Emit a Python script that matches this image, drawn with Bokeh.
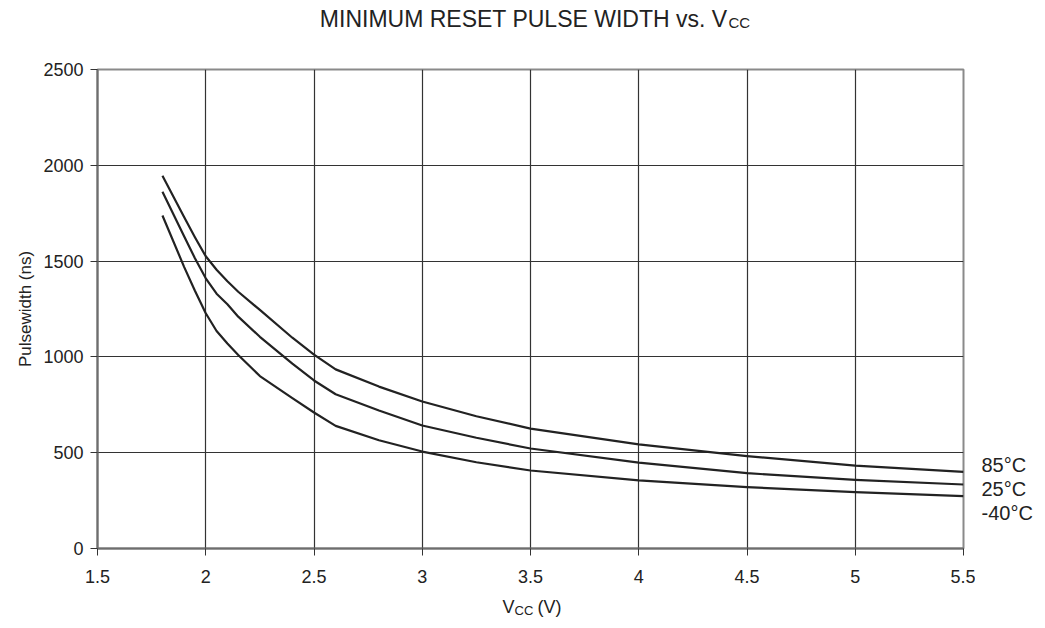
from bokeh.plotting import figure
from bokeh.models import Range1d, Label, FixedTicker
from bokeh.layouts import column, row
from bokeh.embed import file_html
from bokeh.resources import INLINE

vcc = [1.8, 1.9, 1.95, 2.0, 2.05, 2.1, 2.15, 2.25, 2.4, 2.5, 2.6, 2.8, 3.0, 3.25, 3.5, 4.0, 4.5, 5.0, 5.5]
pw_85 = [1945, 1730, 1625, 1525, 1455, 1395, 1340, 1245, 1100, 1012, 935, 845, 767, 690, 626, 543, 482, 433, 400]
pw_25 = [1862, 1630, 1515, 1410, 1330, 1275, 1210, 1105, 965, 877, 805, 720, 642, 578, 522, 448, 393, 358, 334]
pw_m40 = [1738, 1470, 1345, 1228, 1135, 1070, 1010, 900, 785, 710, 640, 565, 506, 450, 407, 356, 320, 294, 273]
series_labels = ["85°C", "25°C", "-40°C"]
label_y = [438, 308, 183]
x_ticks = [1.5, 2, 2.5, 3, 3.5, 4, 4.5, 5, 5.5]
x_tick_text = ["1.5", "2", "2.5", "3", "3.5", "4", "4.5", "5", "5.5"]
y_ticks = [0, 500, 1000, 1500, 2000, 2500]
title_main = "MINIMUM RESET PULSE WIDTH vs. V"
title_sub = "CC"

FONT = "Liberation Sans"
INK = "#222222"

def blank(w, h, y_range=None):
    f = figure(width=w, height=h, output_backend="svg", toolbar_location=None,
               x_axis_type=None, y_axis_type=None,
               x_range=Range1d(0, 1), y_range=y_range if y_range is not None else Range1d(0, 1),
               min_border=0, min_border_left=0, min_border_right=0,
               min_border_top=0, min_border_bottom=0)
    f.outline_line_color = None
    f.background_fill_color = "white"
    f.border_fill_color = "white"
    return f

def lab(f, x, y, text, size, align="left", baseline="alphabetic", units="screen"):
    f.add_layout(Label(x=x, y=y, x_units="screen", y_units=units, text=text,
                       text_font=FONT, text_font_size=size, text_color=INK,
                       text_align=align, text_baseline=baseline))

# ---- title strip (canvas y 0..50)
top = blank(1037, 50)
lab(top, 727, 32, title_main, "23px", align="right")
lab(top, 728, 28, title_sub, "15px")

# ---- main chart (canvas y 50..590)
p = figure(width=975, height=540, output_backend="svg", toolbar_location=None,
           x_range=Range1d(1.5, 5.5), y_range=Range1d(0, 2500),
           min_border_left=97, min_border_right=12, min_border_top=19, min_border_bottom=42)
p.background_fill_color = "white"
p.border_fill_color = "white"
p.outline_line_color = "#8a8a8a"
p.outline_line_width = 2

for ax in (p.xaxis[0], p.yaxis[0]):
    ax.axis_line_color = "#6e6e6e"
    ax.axis_line_width = 2
    ax.major_tick_line_color = "#333333"
    ax.major_tick_in = 0
    ax.major_tick_out = 7
    ax.minor_tick_line_color = None
    ax.major_label_text_font = FONT
    ax.major_label_text_font_size = "18px"
    ax.major_label_text_color = INK

p.xaxis.ticker = FixedTicker(ticks=x_ticks)
p.xaxis.major_label_overrides = {t: s for t, s in zip(x_ticks, x_tick_text)}
p.xaxis.major_label_standoff = 14
p.yaxis.ticker = FixedTicker(ticks=y_ticks)
p.yaxis.major_label_standoff = 7
p.yaxis.axis_label = "Pulsewidth (ns)"
p.yaxis.axis_label_text_font = FONT
p.yaxis.axis_label_text_font_size = "17px"
p.yaxis.axis_label_text_font_style = "normal"
p.yaxis.axis_label_text_color = INK
p.yaxis.axis_label_standoff = 5

p.xgrid.ticker = FixedTicker(ticks=x_ticks)
p.ygrid.ticker = FixedTicker(ticks=y_ticks)
for g in (p.xgrid[0], p.ygrid[0]):
    g.grid_line_color = "#333333"
    g.grid_line_width = 1.2

for ys in (pw_85, pw_25, pw_m40):
    p.line(vcc, ys, line_color=INK, line_width=2.2, line_join="round")

# ---- series labels strip, sharing the y scale (canvas x 975..1037)
side = blank(62, 540, y_range=p.y_range)
side.min_border_top = 19
side.min_border_bottom = 42
for t, y in zip(series_labels, label_y):
    lab(side, 6, y, t, "20px", baseline="middle", units="data")

# ---- x axis title strip (canvas y 590..620)
bot = blank(1037, 30)
lab(bot, 514, 14, "V", "18px", align="right")
lab(bot, 514, 10, "CC", "13px")
lab(bot, 537, 14, "(V)", "18px")

layout = column(top, row(p, side, spacing=0), bot, spacing=0)
open("out.html", "w").write(file_html(layout, INLINE))
